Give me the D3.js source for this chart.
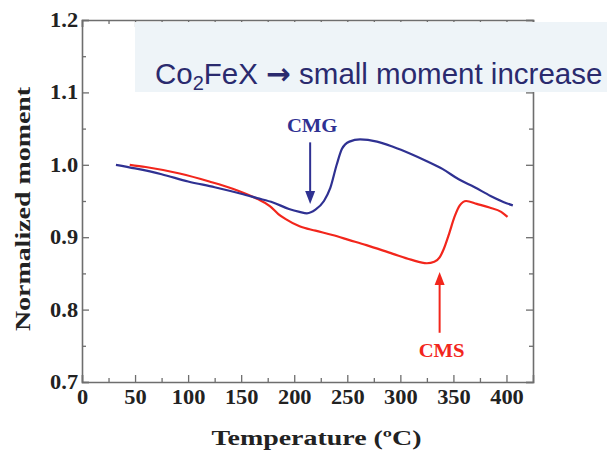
<!DOCTYPE html>
<html>
<head>
<meta charset="utf-8">
<script src="https://cdn.jsdelivr.net/npm/d3@7"></script>
<style>
  body { margin: 0; background: #fff; }
</style>
</head>
<body>
<script>
// CMG (blue) and CMS (red) moment vs temperature
const cmgTemp   = [32, 50, 75, 100, 125, 150, 165, 180, 195, 205, 212, 220, 228, 234, 240, 245, 252, 262, 278, 293, 310, 325, 340, 355, 370, 385, 400, 406]
const cmgMoment = [1.000, 0.995, 0.987, 0.977, 0.969, 0.960, 0.954, 0.948, 0.939, 0.935, 0.933, 0.938, 0.950, 0.968, 1.000, 1.022, 1.032, 1.035, 1.032, 1.025, 1.015, 1.005, 0.994, 0.980, 0.969, 0.957, 0.947, 0.944]

const cmsTemp   = [45, 60, 92, 120, 142, 165, 177, 185, 192, 205, 220, 236, 252, 268, 293, 310, 325, 332, 337, 341, 346, 351, 356, 362, 372, 384, 395, 401]
const cmsMoment = [1.000, 0.997, 0.988, 0.977, 0.967, 0.953, 0.943, 0.932, 0.925, 0.915, 0.909, 0.903, 0.896, 0.889, 0.877, 0.869, 0.864, 0.866, 0.872, 0.884, 0.905, 0.928, 0.944, 0.950, 0.946, 0.941, 0.935, 0.928]

const xTicks      = [0, 50, 100, 150, 200, 250, 300, 350, 400]
const xMinorTicks = [25, 75, 125, 175, 225, 275, 325, 375]
const yTicks      = [0.7, 0.8, 0.9, 1.0, 1.1, 1.2]
const yMinorTicks = [0.75, 0.85, 0.95, 1.05, 1.15]

const W = 607, H = 450
const margin = {top: 20, right: 74, bottom: 68, left: 82}
const width  = W - margin.left - margin.right,
      height = H - margin.top - margin.bottom

const blue = "#2f3192", red = "#f2261c", frame = "#6e6e6e"
const serif = "'Liberation Serif', 'Times New Roman', serif"
const stretch = "scale(1.12,1)"

const svg = d3.select("body").append("svg")
    .attr("width", W)
    .attr("height", H)

const container = svg.append("g")
    .attr("transform", `translate(${margin.left}, ${margin.top})`)

const x = d3.scaleLinear().domain([0, 425]).range([0, width])
const y = d3.scaleLinear().domain([0.7, 1.2]).range([height, 0])

const xAll = xTicks.concat(xMinorTicks).sort((a, b) => a - b)
const yAll = yTicks.concat(yMinorTicks).sort((a, b) => a - b)
const isMajorY = d => yTicks.some(t => Math.abs(t - d) < 1e-9)

function styleAxis(g) {
    g.select(".domain").attr("stroke", frame).attr("stroke-width", 1.6)
    g.selectAll(".tick line")
        .attr("stroke", frame).attr("stroke-width", 1.3)
    g.attr("font-family", serif).attr("font-size", 20).attr("font-weight", "bold")
    g.selectAll(".tick text").attr("fill", "#222").attr("transform", stretch)
}

// bottom
const gx = container.append("g")
    .attr("transform", `translate(0, ${height})`)
    .call(d3.axisBottom(x).tickValues(xAll).tickSizeOuter(0).tickSize(-7).tickPadding(8)
        .tickFormat(d => xTicks.includes(d) ? d : ""))
styleAxis(gx)
gx.selectAll(".tick line").attr("y2", d => xTicks.includes(d) ? -7 : -4)

// top
const gxt = container.append("g")
    .call(d3.axisTop(x).tickValues(xAll).tickSizeOuter(0).tickSize(-7).tickFormat(""))
styleAxis(gxt)
gxt.selectAll(".tick line").attr("y2", d => xTicks.includes(d) ? 7 : 4)

// left
const gy = container.append("g")
    .call(d3.axisLeft(y).tickValues(yAll).tickSizeOuter(0).tickSize(-7).tickPadding(3.5)
        .tickFormat(d => isMajorY(d) ? d3.format(".1f")(d) : ""))
styleAxis(gy)
gy.selectAll(".tick line").attr("x2", d => isMajorY(d) ? 7 : 4)

// right
const gyr = container.append("g")
    .attr("transform", `translate(${width}, 0)`)
    .call(d3.axisRight(y).tickValues(yAll).tickSizeOuter(0).tickSize(-7).tickFormat(""))
styleAxis(gyr)
gyr.selectAll(".tick line").attr("x2", d => isMajorY(d) ? -7 : -4)

// axis titles
container.append("text")
    .attr("transform", `translate(${width / 2 + 9}, ${height + 63}) scale(1.27,1)`)
    .attr("text-anchor", "middle")
    .attr("font-family", serif).attr("font-weight", "bold").attr("font-size", 22)
    .attr("fill", "#222")
    .text("Temperature (ºC)")

container.append("text")
    .attr("transform", `translate(-52, ${height / 2 + 8}) rotate(-90) scale(1.27,1)`)
    .attr("text-anchor", "middle")
    .attr("font-family", serif).attr("font-weight", "bold").attr("font-size", 22)
    .attr("fill", "#222")
    .text("Normalized moment")

// curves
const line = d3.line()
    .x(d => x(d[0]))
    .y(d => y(d[1]))
    .curve(d3.curveMonotoneX)

const series = [
    {name: "CMS", color: red,  pts: d3.zip(cmsTemp, cmsMoment)},
    {name: "CMG", color: blue, pts: d3.zip(cmgTemp, cmgMoment)}
]

container.selectAll("path.curve")
    .data(series)
    .enter()
    .append("path")
    .attr("class", "curve")
    .attr("fill", "none")
    .attr("stroke", d => d.color)
    .attr("stroke-width", 2.2)
    .attr("d", d => line(d.pts))

// annotations: label, arrow from (t, m0) to tip (t, m1)
const notes = [
    {label: "CMG", color: blue, t: 215, textM: 1.045, m0: 1.031, m1: 0.946},
    {label: "CMS", color: red,  t: 337, textM: 0.734, m0: 0.768, m1: 0.852}
]

notes.forEach(n => {
    const dir = n.m1 < n.m0 ? 1 : -1   // 1 = arrow points down
    const tipY = y(n.m1)
    container.append("line")
        .attr("x1", x(n.t)).attr("x2", x(n.t))
        .attr("y1", y(n.m0)).attr("y2", tipY - dir * 10)
        .attr("stroke", n.color).attr("stroke-width", 2)
    container.append("path")
        .attr("d", `M${x(n.t)},${tipY} l-5,${-dir * 13} l10,0 Z`)
        .attr("fill", n.color)
    container.append("text")
        .attr("transform", `translate(${x(n.t) + 2}, ${y(n.textM)}) scale(1.15,1)`)
        .attr("text-anchor", "middle")
        .attr("font-family", serif).attr("font-weight", "bold").attr("font-size", 18)
        .attr("fill", n.color)
        .text(n.label)
})

// caption box over the top right corner
svg.append("rect")
    .attr("x", 135).attr("y", 22)
    .attr("width", W - 135).attr("height", 70)
    .attr("fill", "#eef4f8")

const cap = svg.append("text")
    .attr("x", 155).attr("y", 84)
    .attr("font-family", "'Liberation Sans', Arial, sans-serif")
    .attr("font-size", 29.5)
    .attr("fill", "#2a2a6e")
cap.append("tspan").text("Co")
cap.append("tspan").attr("font-size", 20).attr("dy", 6).text("2")
cap.append("tspan").attr("dy", -6).text("FeX ")
cap.append("tspan").attr("font-family", "'DejaVu Sans', sans-serif").attr("font-weight", "bold").text("\u2192")
cap.append("tspan").text(" small moment increase")
</script>
</body>
</html>
